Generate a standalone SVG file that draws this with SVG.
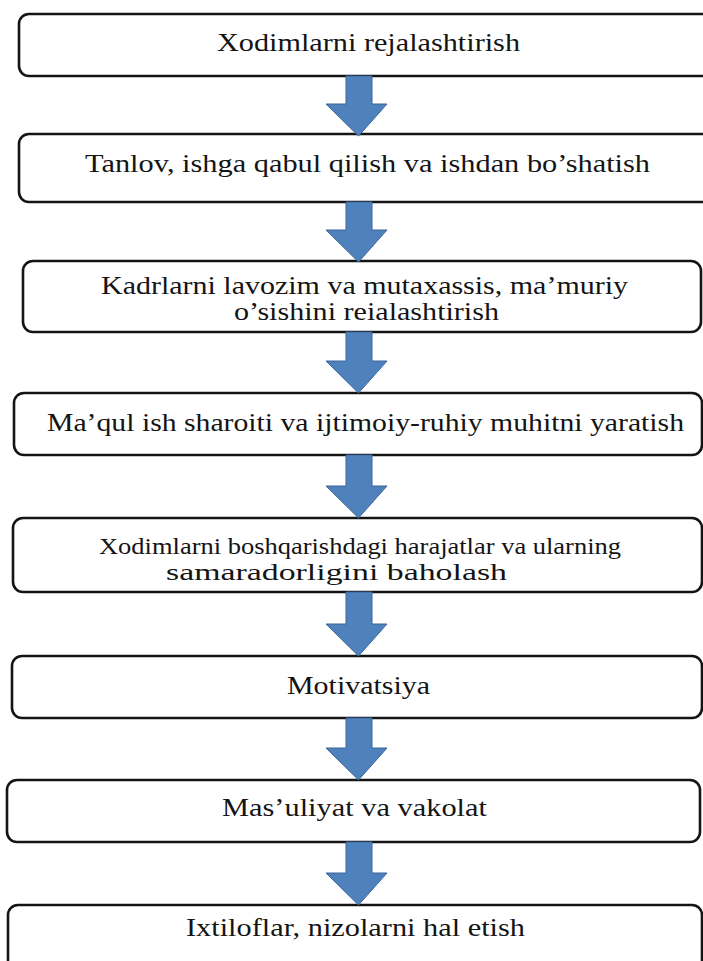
<svg xmlns="http://www.w3.org/2000/svg" width="703" height="961" viewBox="0 0 703 961">
<style>
.box{fill:#ffffff;stroke:#141414;stroke-width:2.6}
.lbl{font-family:"Liberation Serif","Times New Roman",serif;font-size:24.5px;fill:#141414}
.sm{font-size:23px}
.arr{fill:#4f81bd;stroke:#3b6699;stroke-width:1}
</style>
<rect width="703" height="961" fill="#ffffff"/>
<g id="n1"><rect class="box" x="19" y="14" width="710" height="62" rx="10"/>
<text class="lbl" x="217" y="51" textLength="303" lengthAdjust="spacingAndGlyphs">Xodimlarni rejalashtirish</text></g>
<g id="n2"><rect class="box" x="19" y="134" width="710" height="68" rx="10"/>
<text class="lbl" x="85" y="172" textLength="565" lengthAdjust="spacingAndGlyphs">Tanlov, ishga qabul qilish va ishdan bo’shatish</text></g>
<g id="n3"><rect class="box" x="23" y="261" width="678" height="71" rx="10"/>
<text class="lbl" x="101" y="294" textLength="527" lengthAdjust="spacingAndGlyphs">Kadrlarni lavozim va mutaxassis, ma’muriy</text>
<text class="lbl" x="234" y="320" textLength="265" lengthAdjust="spacingAndGlyphs">o’sishini reialashtirish</text></g>
<g id="n4"><rect class="box" x="14" y="393" width="688" height="62" rx="10"/>
<text class="lbl" x="47" y="431" textLength="637" lengthAdjust="spacingAndGlyphs">Ma’qul ish sharoiti va ijtimoiy-ruhiy muhitni yaratish</text></g>
<g id="n5"><rect class="box" x="13" y="518" width="689" height="74" rx="10"/>
<text class="lbl sm" x="99" y="554" textLength="522" lengthAdjust="spacingAndGlyphs">Xodimlarni boshqarishdagi harajatlar va ularning</text>
<text class="lbl sm" x="166" y="580" textLength="341" lengthAdjust="spacingAndGlyphs">samaradorligini baholash</text></g>
<g id="n6"><rect class="box" x="12" y="656" width="690" height="62" rx="10"/>
<text class="lbl" x="287" y="694" textLength="143" lengthAdjust="spacingAndGlyphs">Motivatsiya</text></g>
<g id="n7"><rect class="box" x="7" y="780" width="693" height="62" rx="10"/>
<text class="lbl" x="222" y="816" textLength="265" lengthAdjust="spacingAndGlyphs">Mas’uliyat va vakolat</text></g>
<g id="n8"><rect class="box" x="8" y="905" width="694" height="80" rx="10"/>
<text class="lbl" x="186" y="936" textLength="339" lengthAdjust="spacingAndGlyphs">Ixtiloflar, nizolarni hal etish</text></g>
<g id="connectors">
<path class="arr" d="M346,76 H372 V104 H387 L358.5,136 L326,104 H346 Z"/>
<path class="arr" d="M346,202 H372 V230 H387 L358.5,262 L326,230 H346 Z"/>
<path class="arr" d="M346,332 H372 V361 H387 L358.5,393 L326,361 H346 Z"/>
<path class="arr" d="M346,455 H372 V486 H387 L358.5,518 L326,486 H346 Z"/>
<path class="arr" d="M346,592 H372 V624 H387 L358.5,656 L326,624 H346 Z"/>
<path class="arr" d="M346,718 H372 V748 H387 L358.5,780 L326,748 H346 Z"/>
<path class="arr" d="M346,842 H372 V873 H387 L358.5,905 L326,873 H346 Z"/>
</g>
</svg>
